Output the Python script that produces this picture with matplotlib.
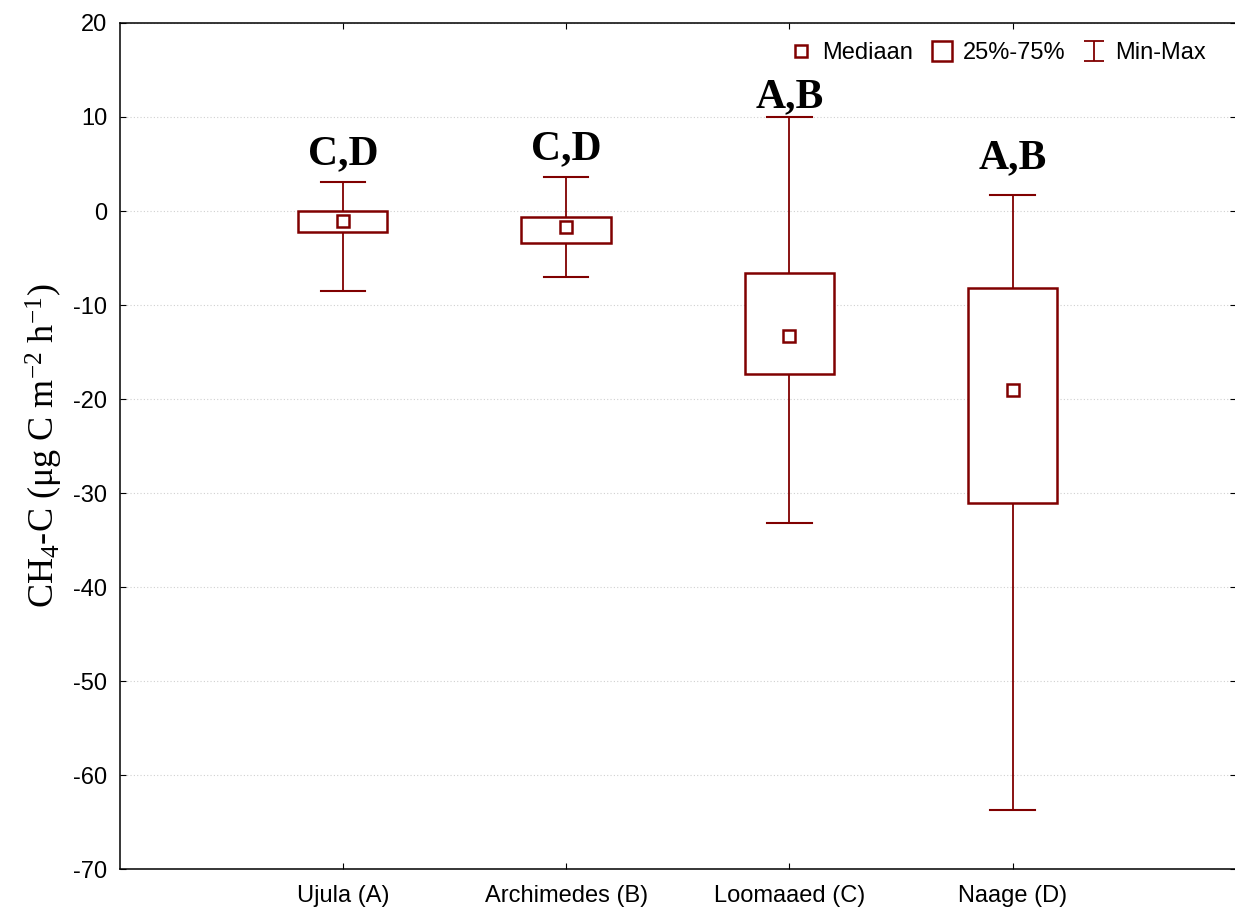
import numpy as np
import matplotlib
matplotlib.use('Agg')
import matplotlib.pyplot as plt
from matplotlib.lines import Line2D
from matplotlib.path import Path

plt.rcParams['font.family'] = 'Liberation Sans'
plt.rcParams['axes.unicode_minus'] = False
plt.rcParams['mathtext.fontset'] = 'custom'
plt.rcParams['mathtext.rm'] = 'Liberation Serif'
plt.rcParams['mathtext.it'] = 'Liberation Serif:italic'

sites = ['Ujula (A)', 'Archimedes (B)', 'Loomaaed (C)', 'Naage (D)']
medians = [-1.1, -1.7, -13.3, -19.0]
q25 = [-2.2, -3.4, -17.3, -31.0]
q75 = [0.0, -0.6, -6.6, -8.2]
mins = [-8.5, -7.0, -33.2, -63.7]
maxs = [3.1, 3.6, 10.0, 1.7]
letters = ['C,D', 'C,D', 'A,B', 'A,B']
letter_y = [5.0, 5.5, 11.0, 4.6]

col = '#800000'
pos = np.arange(1, len(sites) + 1)
box_w = 0.4
cap_w = 0.2

fig = plt.figure(figsize=(12.35, 9.11), dpi=100)
ax = fig.add_axes([0.0968, 0.0458, 0.9040, 0.929])

ax.yaxis.grid(True, color='#d0d0d0', linestyle=(0, (1, 2)), linewidth=0.8)
ax.set_axisbelow(True)

for i, x in enumerate(pos):
    # whiskers
    ax.plot([x, x], [maxs[i], q75[i]], color=col, lw=1.3)
    ax.plot([x, x], [q25[i], mins[i]], color=col, lw=1.3)
    ax.plot([x - cap_w / 2, x + cap_w / 2], [maxs[i], maxs[i]], color=col, lw=1.5)
    ax.plot([x - cap_w / 2, x + cap_w / 2], [mins[i], mins[i]], color=col, lw=1.5)
    # box
    ax.add_patch(plt.Rectangle((x - box_w / 2, q25[i]), box_w, q75[i] - q25[i],
                               facecolor='white', edgecolor=col, lw=1.8, zorder=3))
    ax.plot(x, medians[i], marker='s', ms=8, mfc='white', mec=col, mew=1.8, zorder=4)
    ax.text(x, letter_y[i], letters[i], ha='center', va='baseline',
            fontsize=30, fontweight='bold', family='Liberation Serif')

ax.set_xlim(0, 5)
ax.set_ylim(-70, 20)
ax.set_yticks(np.arange(-70, 21, 10))
ax.set_xticks(pos)
ax.set_xticklabels(sites)
ax.tick_params(direction='in', length=4, labelsize=17, right=True, top=True)
ax.tick_params(axis='x', pad=11)
ax.tick_params(axis='y', pad=9)
for s in ax.spines.values():
    s.set_linewidth(1.1)
ax.spines['right'].set_visible(False)

ax.set_ylabel(r'CH$_4$-C ($\mathrm{\mu}$g C m$^{-2}$ h$^{-1}$)', family='Liberation Serif',
              fontsize=26, labelpad=6)

ibeam = Path([(-1, 1), (1, 1), (0, 1), (0, -1), (-1, -1), (1, -1)],
             [Path.MOVETO, Path.LINETO, Path.MOVETO, Path.LINETO, Path.MOVETO, Path.LINETO])
handles = [
    Line2D([], [], ls='none', marker='s', ms=8, mfc='white', mec=col, mew=1.8),
    Line2D([], [], ls='none', marker='s', ms=15, mfc='white', mec=col, mew=1.8),
    Line2D([], [], ls='none', marker=ibeam, ms=15, mec=col, mew=1.3),
]
ax.legend(handles, ['Mediaan', '25%-75%', 'Min-Max'], loc='upper right', ncol=3,
          frameon=False, fontsize=17, handlelength=1.0, handletextpad=0.4,
          columnspacing=0.7, bbox_to_anchor=(0.99, 1.0), borderaxespad=0.4)

fig.savefig('out.png', dpi=100)
